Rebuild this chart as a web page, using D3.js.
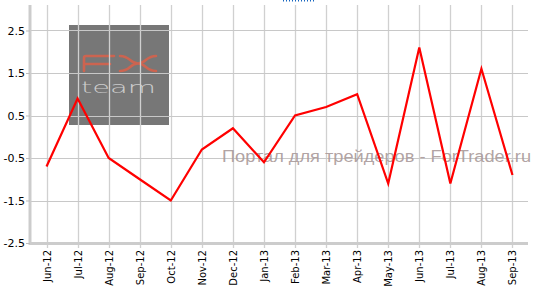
<!DOCTYPE html>
<html><head><meta charset="utf-8">
<script src="https://cdn.jsdelivr.net/npm/d3@7"></script>
<style>
html,body{margin:0;padding:0;background:#fff;}
svg{display:block;}
</style></head>
<body>
<svg id="chart" width="538" height="293"></svg>
<script>
const categories = ["Jun-12","Jul-12","Aug-12","Sep-12","Oct-12","Nov-12","Dec-12","Jan-13","Feb-13","Mar-13","Apr-13","May-13","Jun-13","Jul-13","Aug-13","Sep-13"];
const values = [-0.7, 0.9, -0.5, -1.0, -1.5, -0.3, 0.2, -0.6, 0.5, 0.7, 1.0, -1.1, 2.1, -1.1, 1.6, -0.9];
const yTicks = [2.5, 1.5, 0.5, -0.5, -1.5, -2.5];
const yTickLabels = ["2.5", "1.5", "0.5", "-0.5", "-1.5", "-2.5"];
const yDomain = [-2.5, 3.1];

const svg = d3.select("#chart");
const mL = 31, mR = 528, mT = 5, mB = 243;

const x = d3.scalePoint().domain(categories).range([mL, mR]).padding(0.5);
const y = d3.scaleLinear().domain(yDomain).range([mB, mT]);

// watermark box
const wm = svg.append("g");
wm.append("rect").attr("x", 69).attr("y", 25).attr("width", 100).attr("height", 100).attr("fill", "#777777");

// grid
const grid = svg.append("g");
grid.selectAll("line.v").data(categories).join("line")
  .attr("x1", d => Math.round(x(d)) + 0.5).attr("x2", d => Math.round(x(d)) + 0.5)
  .attr("y1", mT).attr("y2", mB + 5)
  .attr("stroke", "#d0d0d0").attr("stroke-width", 1.3);
grid.selectAll("line.h").data(yTicks.filter(d => d > yDomain[0])).join("line")
  .attr("x1", mL).attr("x2", mR)
  .attr("y1", d => Math.round(y(d)) + 0.5).attr("y2", d => Math.round(y(d)) + 0.5)
  .attr("stroke", "#c8c8c8").attr("stroke-width", 1);

// logo
wm.append("path")
  .attr("d", "M84,71 V58 Q84,56 86,56 H114 M84,64 H110 M120,56 C130,56 130,63.5 138,63.5 C146,63.5 146,56 156,56 M120,71 C130,71 130,63.5 138,63.5 C146,63.5 146,71 156,71")
  .attr("fill", "none").attr("stroke", "#cc6450").attr("stroke-width", 2.6).attr("stroke-linecap", "round");
wm.append("text").attr("x", 81).attr("y", 93).text("team")
  .attr("font-family", "DejaVu Sans").attr("font-size", 15).attr("font-weight", 200)
  .attr("fill", "#cccccc").attr("textLength", 75).attr("lengthAdjust", "spacingAndGlyphs");

// watermark text
svg.append("text").attr("x", 222).attr("y", 162).text("Портал для трейдеров - ForTrader.ru")
  .attr("font-family", "Liberation Sans").attr("font-size", 16)
  .attr("fill", "#a89898").attr("fill-opacity", 0.9).attr("textLength", 309).attr("lengthAdjust", "spacingAndGlyphs");

// axes
svg.append("line").attr("x1", mL - 1).attr("x2", mL - 1).attr("y1", mT).attr("y2", mB + 2)
  .attr("stroke", "#cccccc").attr("stroke-width", 3);
svg.append("line").attr("x1", mL - 2).attr("x2", mR).attr("y1", mB + 0.5).attr("y2", mB + 0.5)
  .attr("stroke", "#cccccc").attr("stroke-width", 3);

const yAxis = d3.axisLeft(y).tickValues(yTicks).tickSize(4).tickPadding(1)
  .tickFormat((d, i) => yTickLabels[i]);
const gy = svg.append("g").attr("transform", `translate(${mL - 1},0)`).call(yAxis);
gy.select(".domain").remove();
gy.selectAll(".tick line").attr("stroke", "#bbbbbb");
gy.selectAll("text").attr("font-family", "DejaVu Sans").attr("font-size", 11).attr("fill", "#000");

const xAxis = d3.axisBottom(x).tickSize(0).tickPadding(0);
const gx = svg.append("g").attr("transform", `translate(0,${mB + 7})`).call(xAxis);
gx.select(".domain").remove();
gx.selectAll("text")
  .attr("font-family", "DejaVu Sans").attr("font-size", 10).attr("fill", "#000")
  .attr("transform", "rotate(-90)").attr("text-anchor", "end")
  .attr("x", 0).attr("y", 0).attr("dx", 0).attr("dy", "0.35em");

// line
const line = d3.line().x((d, i) => x(categories[i])).y(d => y(d));
svg.append("path").datum(values).attr("d", line)
  .attr("fill", "none").attr("stroke", "#ff0000").attr("stroke-width", 2.2).attr("stroke-linejoin", "miter");

// small blue dotted mark at top
svg.append("line").attr("x1", 283).attr("x2", 315).attr("y1", 0.5).attr("y2", 0.5)
  .attr("stroke", "#1565c0").attr("stroke-width", 2).attr("stroke-dasharray", "1,2");
</script>
</body></html>
